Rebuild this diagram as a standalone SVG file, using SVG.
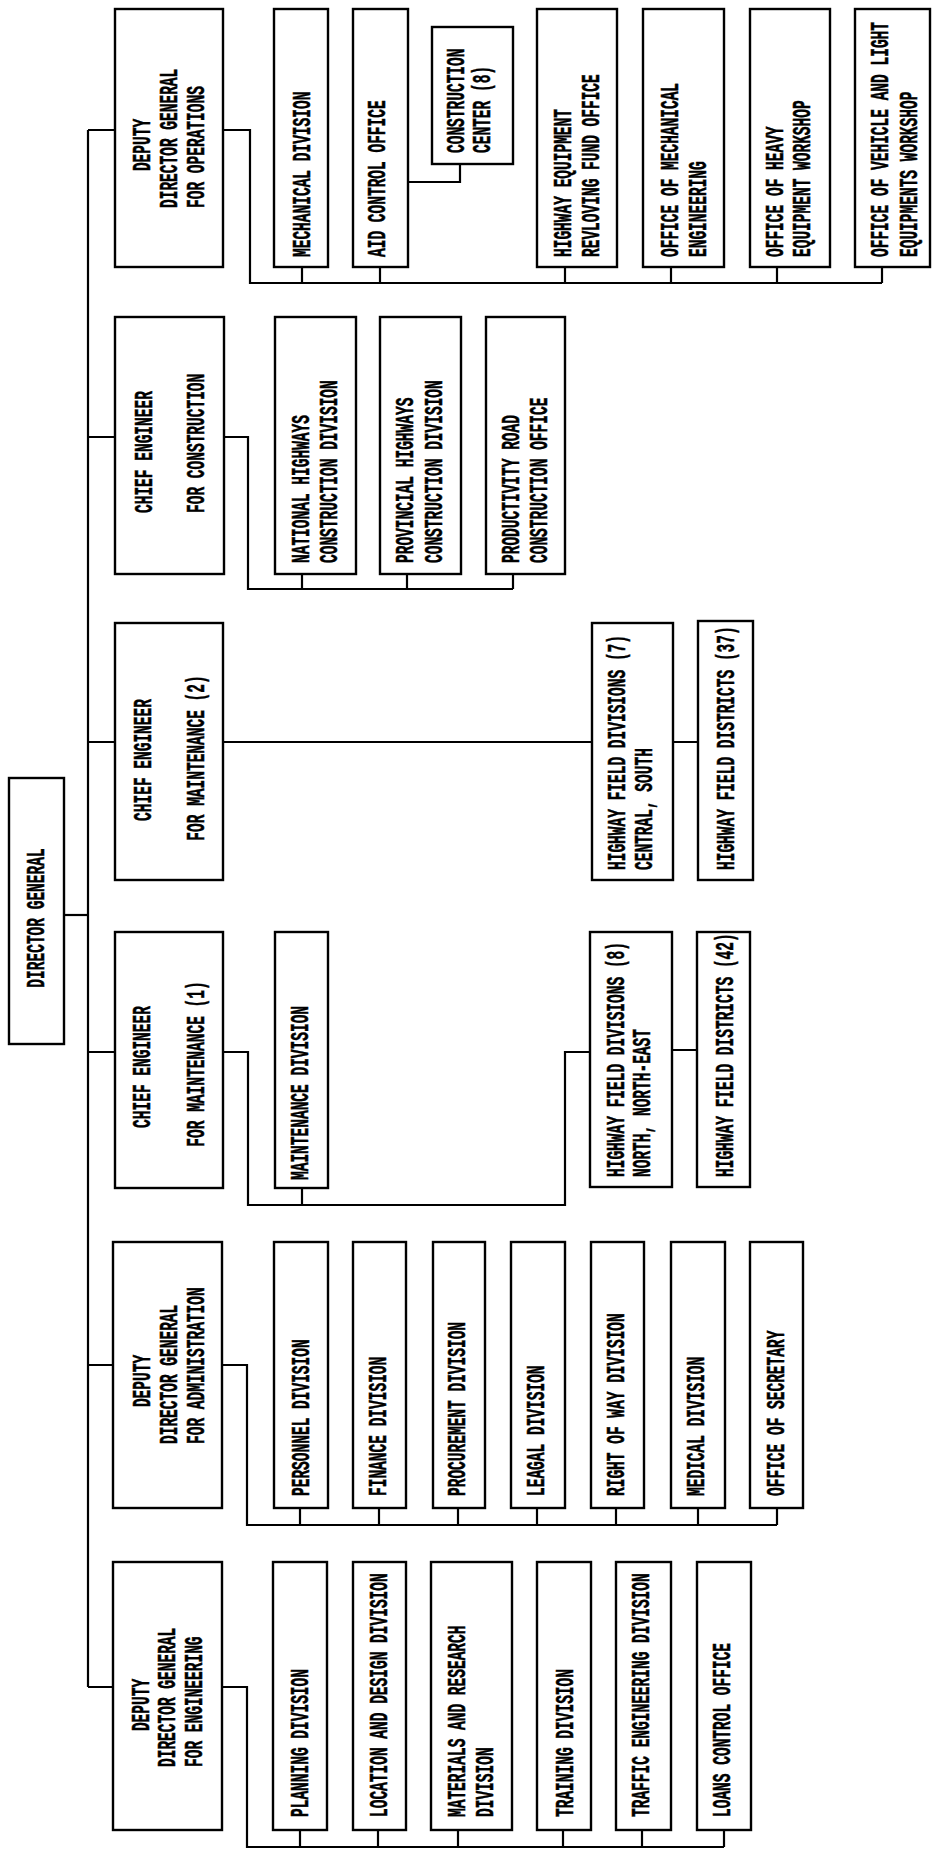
<svg xmlns="http://www.w3.org/2000/svg" width="935" height="1853" viewBox="0 0 935 1853">
<style>
rect{fill:#fff;stroke:#000;stroke-width:2.4}
.c path,.c line{fill:none;stroke:#000;stroke-width:2.2}
text{font-family:"Liberation Mono","DejaVu Sans Mono",monospace;font-weight:bold;font-size:26px;fill:#000;stroke:#000;stroke-width:0.5}
.m{text-anchor:middle}
</style>
<rect x="0" y="0" width="935" height="1853" style="stroke:none"/>
<g class="c" id="connectors">
<path d="M88,130V1687"/>
<path d="M64,915H88"/>
<path d="M88,130H115M88,437H115M88,742H115M88,1052H115M88,1365H113M88,1687H113"/>
<path d="M223,130H250V283H882"/>
<path d="M302,267V283M380,267V283M565,267V283M671,267V283M777,267V283M882,267V283"/>
<path d="M408,182H460V164"/>
<path d="M224,437H248V589H513"/>
<path d="M302,574V589M407,574V589M513,574V589"/>
<path d="M223,742H592M673,742H698"/>
<path d="M223,1052H248V1205H565V1052H590M302,1188V1205M672,1050H697"/>
<path d="M222,1365H247V1525H777"/>
<path d="M300,1508V1525M379,1508V1525M458,1508V1525M537,1508V1525M616,1508V1525M698,1508V1525M777,1508V1525"/>
<path d="M222,1687H247V1847H724"/>
<path d="M300,1830V1847M378,1830V1847M458,1830V1847M563,1830V1847M642,1830V1847M724,1830V1847"/>
</g>
<g id="dg"><rect x="9" y="778" width="55" height="266"/>
<text class="m" transform="translate(43.5,918) rotate(-90) scale(0.558,1)">DIRECTOR GENERAL</text></g>
<g id="ddg-ops"><rect x="115" y="9" width="108" height="258"/>
<text class="m" transform="translate(150,145) rotate(-90) scale(0.558,1)">DEPUTY</text>
<text transform="translate(176.5,208) rotate(-90) scale(0.558,1)">DIRECTOR GENERAL</text>
<text transform="translate(203.5,208) rotate(-90) scale(0.558,1)">FOR OPERATIONS</text></g>
<g id="ce-constr"><rect x="115" y="317" width="109" height="257"/>
<text transform="translate(151.5,513) rotate(-90) scale(0.558,1)">CHIEF ENGINEER</text>
<text transform="translate(204,513) rotate(-90) scale(0.558,1)">FOR CONSTRUCTION</text></g>
<g id="ce-maint2"><rect x="115" y="623" width="108" height="257"/>
<text class="m" transform="translate(151,760) rotate(-90) scale(0.558,1)">CHIEF ENGINEER</text>
<text class="m" transform="translate(204,758) rotate(-90) scale(0.558,1)">FOR MAINTENANCE (2)</text></g>
<g id="ce-maint1"><rect x="115" y="932" width="108" height="256"/>
<text class="m" transform="translate(150,1067) rotate(-90) scale(0.558,1)">CHIEF ENGINEER</text>
<text class="m" transform="translate(203.5,1064) rotate(-90) scale(0.558,1)">FOR MAINTENANCE (1)</text></g>
<g id="ddg-admin"><rect x="113" y="1242" width="109" height="266"/>
<text class="m" transform="translate(149.5,1381) rotate(-90) scale(0.558,1)">DEPUTY</text>
<text transform="translate(176.5,1444) rotate(-90) scale(0.558,1)">DIRECTOR GENERAL</text>
<text transform="translate(203.5,1444) rotate(-90) scale(0.558,1)">FOR ADMINISTRATION</text></g>
<g id="ddg-eng"><rect x="113" y="1562" width="109" height="268"/>
<text class="m" transform="translate(148.5,1705) rotate(-90) scale(0.558,1)">DEPUTY</text>
<text transform="translate(175,1767) rotate(-90) scale(0.558,1)">DIRECTOR GENERAL</text>
<text transform="translate(201.5,1767) rotate(-90) scale(0.558,1)">FOR ENGINEERING</text></g>

<g id="mech-div"><rect x="274" y="9" width="54" height="258"/>
<text transform="translate(309.5,257) rotate(-90) scale(0.558,1)">MECHANICAL DIVISION</text></g>
<g id="aid"><rect x="353" y="9" width="55" height="258"/>
<text transform="translate(385,257) rotate(-90) scale(0.558,1)">AID CONTROL OFFICE</text></g>
<g id="constr-center"><rect x="432" y="27" width="81" height="137"/>
<text transform="translate(464,153) rotate(-90) scale(0.558,1)">CONSTRUCTION</text>
<text transform="translate(490,153) rotate(-90) scale(0.558,1)">CENTER (8)</text></g>
<g id="he-fund"><rect x="537" y="9" width="80" height="258"/>
<text transform="translate(571,257) rotate(-90) scale(0.558,1)">HIGHWAY EQUIPMENT</text>
<text transform="translate(599,257) rotate(-90) scale(0.558,1)">REVLOVING FUND OFFICE</text></g>
<g id="mech-eng"><rect x="643" y="9" width="81" height="258"/>
<text transform="translate(677.5,257) rotate(-90) scale(0.558,1)">OFFICE OF MECHANICAL</text>
<text transform="translate(706,257) rotate(-90) scale(0.558,1)">ENGINEERING</text></g>
<g id="heavy"><rect x="750" y="9" width="80" height="258"/>
<text transform="translate(782.5,257) rotate(-90) scale(0.558,1)">OFFICE OF HEAVY</text>
<text transform="translate(810,257) rotate(-90) scale(0.558,1)">EQUIPMENT WORKSHOP</text></g>
<g id="vehicle"><rect x="855" y="9" width="75" height="258"/>
<text transform="translate(888,257) rotate(-90) scale(0.558,1)">OFFICE OF VEHICLE AND LIGHT</text>
<text transform="translate(916.5,257) rotate(-90) scale(0.558,1)">EQUIPMENTS WORKSHOP</text></g>

<g id="national"><rect x="275" y="317" width="81" height="257"/>
<text transform="translate(309,563) rotate(-90) scale(0.558,1)">NATIONAL HIGHWAYS</text>
<text transform="translate(337,563) rotate(-90) scale(0.558,1)">CONSTRUCTION DIVISION</text></g>
<g id="provincial"><rect x="380" y="317" width="81" height="257"/>
<text transform="translate(413,563) rotate(-90) scale(0.558,1)">PROVINCIAL HIGHWAYS</text>
<text transform="translate(441.5,563) rotate(-90) scale(0.558,1)">CONSTRUCTION DIVISION</text></g>
<g id="productivity"><rect x="486" y="317" width="79" height="257"/>
<text transform="translate(518.5,563) rotate(-90) scale(0.558,1)">PRODUCTIVITY ROAD</text>
<text transform="translate(546.5,563) rotate(-90) scale(0.558,1)">CONSTRUCTION OFFICE</text></g>

<g id="hfd7"><rect x="592" y="623" width="81" height="257"/>
<text transform="translate(625,870) rotate(-90) scale(0.558,1)">HIGHWAY FIELD DIVISIONS (7)</text>
<text transform="translate(651.5,870) rotate(-90) scale(0.558,1)">CENTRAL, SOUTH</text></g>
<g id="hfdist37"><rect x="698" y="621" width="55" height="259"/>
<text transform="translate(733.5,870) rotate(-90) scale(0.558,1)">HIGHWAY FIELD DISTRICTS (37)</text></g>

<g id="maint-div"><rect x="275" y="932" width="53" height="256"/>
<text transform="translate(307.5,1180) rotate(-90) scale(0.558,1)">MAINTENANCE DIVISION</text></g>
<g id="hfd8"><rect x="590" y="932" width="82" height="255"/>
<text transform="translate(623.5,1177) rotate(-90) scale(0.558,1)">HIGHWAY FIELD DIVISIONS (8)</text>
<text transform="translate(650,1177) rotate(-90) scale(0.558,1)">NORTH, NORTH-EAST</text></g>
<g id="hfdist42"><rect x="697" y="932" width="53" height="255"/>
<text transform="translate(732.5,1177) rotate(-90) scale(0.558,1)">HIGHWAY FIELD DISTRICTS (42)</text></g>

<g id="personnel"><rect x="274" y="1242" width="54" height="266"/>
<text transform="translate(308.5,1496) rotate(-90) scale(0.558,1)">PERSONNEL DIVISION</text></g>
<g id="finance"><rect x="353" y="1242" width="53" height="266"/>
<text transform="translate(386,1496) rotate(-90) scale(0.558,1)">FINANCE DIVISION</text></g>
<g id="procurement"><rect x="433" y="1242" width="52" height="266"/>
<text transform="translate(465,1496) rotate(-90) scale(0.558,1)">PROCUREMENT DIVISION</text></g>
<g id="legal"><rect x="511" y="1242" width="54" height="266"/>
<text transform="translate(543.5,1496) rotate(-90) scale(0.558,1)">LEAGAL DIVISION</text></g>
<g id="row"><rect x="591" y="1242" width="53" height="266"/>
<text transform="translate(623.5,1496) rotate(-90) scale(0.558,1)">RIGHT OF WAY DIVISION</text></g>
<g id="medical"><rect x="671" y="1242" width="54" height="266"/>
<text transform="translate(704,1496) rotate(-90) scale(0.558,1)">MEDICAL DIVISION</text></g>
<g id="secretary"><rect x="750" y="1242" width="53" height="266"/>
<text transform="translate(783.5,1496) rotate(-90) scale(0.558,1)">OFFICE OF SECRETARY</text></g>

<g id="planning"><rect x="273" y="1562" width="54" height="268"/>
<text transform="translate(307.5,1817) rotate(-90) scale(0.558,1)">PLANNING DIVISION</text></g>
<g id="location"><rect x="353" y="1562" width="53" height="268"/>
<text transform="translate(386.5,1817) rotate(-90) scale(0.558,1)">LOCATION AND DESIGN DIVISION</text></g>
<g id="materials"><rect x="431" y="1562" width="81" height="268"/>
<text transform="translate(465,1817) rotate(-90) scale(0.558,1)">MATERIALS AND RESEARCH</text>
<text transform="translate(492.5,1817) rotate(-90) scale(0.558,1)">DIVISION</text></g>
<g id="training"><rect x="537" y="1562" width="54" height="268"/>
<text transform="translate(572.5,1817) rotate(-90) scale(0.558,1)">TRAINING DIVISION</text></g>
<g id="traffic"><rect x="616" y="1562" width="55" height="268"/>
<text transform="translate(648.5,1817) rotate(-90) scale(0.558,1)">TRAFFIC ENGINEERING DIVISION</text></g>
<g id="loans"><rect x="697" y="1562" width="54" height="268"/>
<text transform="translate(729.5,1817) rotate(-90) scale(0.558,1)">LOANS CONTROL OFFICE</text></g>
</svg>
